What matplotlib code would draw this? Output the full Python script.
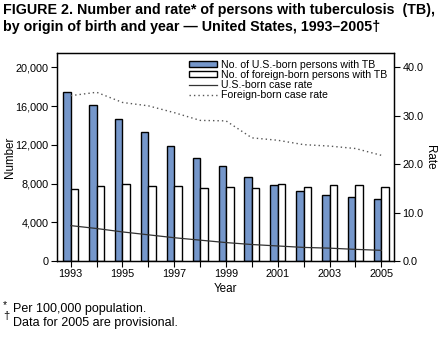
import matplotlib
matplotlib.use("Agg")
import matplotlib.pyplot as plt
import numpy as np

years = [1993, 1994, 1995, 1996, 1997, 1998, 1999, 2000, 2001, 2002, 2003, 2004, 2005]
us_born = [17420, 16075, 14630, 13290, 11840, 10600, 9780, 8640, 7815, 7200, 6780, 6575, 6370]
foreign_born = [7400, 7710, 7920, 7710, 7710, 7500, 7670, 7500, 7920, 7610, 7815, 7815, 7610]
us_rate = [7.3, 6.7, 6.0, 5.4, 4.8, 4.3, 3.8, 3.4, 3.1, 2.8, 2.65, 2.4, 2.2]
foreign_rate = [34.1, 34.8, 32.7, 32.0, 30.6, 29.0, 28.9, 25.4, 24.9, 24.0, 23.7, 23.2, 21.8]
xtick_labels = ["1993", "1995", "1997", "1999", "2001", "2003", "2005"]

plt.rcParams['font.family'] = ['Liberation Sans', 'DejaVu Sans']

fig = plt.figure(figsize=(4.42, 3.38), dpi=100)
W, H = 442, 338
ax_w = (394 - 57) / W
ax = fig.add_axes([57 / W, 1 - 261 / H, ax_w, (261 - 53) / H])
ax2 = ax.twinx()

x = np.array(years, dtype=float)
bw = 0.29
blue = "#7597cb"
ax.bar(x - bw / 2, us_born, width=bw, color=blue, edgecolor="black", linewidth=1.0,
       label="No. of U.S.-born persons with TB", zorder=2)
ax.bar(x + bw / 2, foreign_born, width=bw, color="white", edgecolor="black", linewidth=1.0,
       label="No. of foreign-born persons with TB", zorder=2)

ax2.plot(x, us_rate, color="#333333", linewidth=0.9, label="U.S.-born case rate")
ax2.plot(x, foreign_rate, color="#555555", linewidth=1.0, linestyle=(0, (1, 2.2)),
         label="Foreign-born case rate")

ax.set_xlim(1992.47, 2005.49)
ax.set_ylim(0, 21480)
ax2.set_ylim(0, 42.9)

ax.set_yticks([0, 4000, 8000, 12000, 16000, 20000])
ax.set_yticklabels(["0", "4,000", "8,000", "12,000", "16,000", "20,000"])
ax2.set_yticks([0, 10, 20, 30, 40])
ax2.set_yticklabels(["0.0", "10.0", "20.0", "30.0", "40.0"])
ax.set_xticks(years[::2])
ax.set_xticklabels(xtick_labels)
ax.set_xticks(years[1::2], minor=True)

for a in (ax, ax2):
    a.tick_params(axis="both", which="both", direction="out", labelsize=7.8, length=4, width=0.8, pad=2)
    for s in a.spines.values():
        s.set_linewidth(0.9)

ax.set_xlabel("Year", fontsize=8.4, labelpad=3)
fig.text(10 / W, 1 - 157 / H, "Number", fontsize=8.4, rotation=90, ha="center", va="center")
fig.text(430 / W, 1 - 157 / H, "Rate", fontsize=8.4, rotation=-90, ha="center", va="center")

h1, l1 = ax.get_legend_handles_labels()
h2, l2 = ax2.get_legend_handles_labels()
leg = ax2.legend(h1 + h2, l1 + l2, loc="upper right", bbox_to_anchor=(1.0, 1.0),
                 frameon=False, fontsize=7.6, handlelength=2.6, handleheight=0.4,
                 labelspacing=0.0, handletextpad=0.4, borderaxespad=0.25)

fig.text(3 / W, 1 - 10 / H, "FIGURE 2. Number and rate* of persons with tuberculosis  (TB),",
         fontsize=10.3, fontweight="bold", va="center", ha="left")
fig.text(3 / W, 1 - 27 / H, "by origin of birth and year \u2014 United States, 1993\u20132005\u2020",
         fontsize=10.3, fontweight="bold", va="center", ha="left")

fig.text(3 / W, 1 - 305 / H, "*", fontsize=7.5, va="center", ha="left")
fig.text(13 / W, 1 - 309 / H, "Per 100,000 population.", fontsize=9, va="center", ha="left")
fig.text(3 / W, 1 - 316 / H, "\u2020", fontsize=8, va="center", ha="left")
fig.text(13 / W, 1 - 323 / H, "Data for 2005 are provisional.", fontsize=9, va="center", ha="left")

fig.savefig("out.png", dpi=100)
